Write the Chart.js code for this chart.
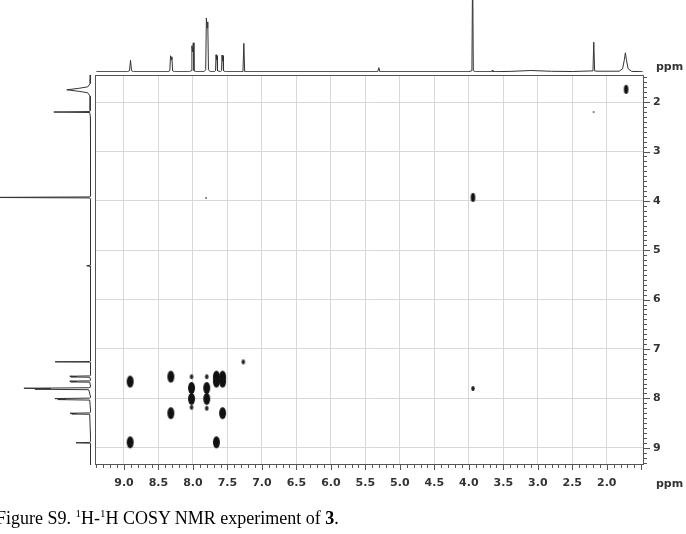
<!DOCTYPE html>
<html>
<head>
<meta charset="utf-8">
<script src="https://cdn.jsdelivr.net/npm/chart.js@4.4.1/dist/chart.umd.min.js"></script>
<style>
  html, body { margin: 0; padding: 0; background: #fff; }
  #wrap { position: relative; width: 686px; height: 534px; overflow: hidden; background: #fff; }
  canvas { position: absolute; }
  .ppm { position: absolute; font-family: "DejaVu Sans", sans-serif; font-weight: bold; font-size: 11px; color: #333; line-height: 13px; }
  #caption { position: absolute; left: -4px; top: 509px; font-family: "Liberation Serif", "Times New Roman", serif; font-size: 18px; line-height: 18px; color: #000; white-space: nowrap; }
  #caption sup { font-size: 11px; vertical-align: 7px; line-height: 0; }
</style>
</head>
<body>
<div id="wrap">
  <canvas id="main" width="686" height="534" style="left:0;top:0"></canvas>
  <canvas id="top" width="686" height="75" style="left:0;top:0"></canvas>
  <canvas id="side" width="95" height="390" style="left:0;top:75px"></canvas>
  <div class="ppm" style="left:656px;top:60px">ppm</div>
  <div class="ppm" style="left:656px;top:477px">ppm</div>
  <div id="caption">Figure S9. <sup>1</sup>H-<sup>1</sup>H COSY NMR experiment of <b>3</b>.</div>
</div>
<script>
// ---------- data ----------
const xTickValues = [9.0, 8.5, 8.0, 7.5, 7.0, 6.5, 6.0, 5.5, 5.0, 4.5, 4.0, 3.5, 3.0, 2.5, 2.0];
const yTickValues = [2, 3, 4, 5, 6, 7, 8, 9];

// strong cross / diagonal peaks (F2 ppm, F1 ppm)
const strongX = [8.91, 8.91, 8.32, 8.32, 8.02, 8.02, 7.80, 7.80, 7.66, 7.66, 7.57, 7.57, 7.57, 7.66];
const strongY = [7.66, 8.89, 7.56, 8.30, 7.79, 8.01, 7.79, 8.01, 7.56, 7.66, 7.56, 7.66, 8.30, 8.89];
// medium peaks
const mediumX = [3.94, 1.72];
const mediumY = [3.93, 1.74];
// weak peaks
const weakX = [8.02, 8.02, 7.80, 7.80, 7.27, 3.94];
const weakY = [7.56, 8.18, 7.56, 8.20, 7.26, 7.80];
// very weak peaks
const tinyX = [7.81, 2.19];
const tinyY = [3.94, 2.20];

// 1D projection on top (ppm, intensity)
const topPpm = [9.40, 8.95, 8.92, 8.905, 8.89, 8.86, 8.36, 8.335, 8.325, 8.315, 8.305, 8.295, 8.27,
  8.05, 8.025, 8.015, 8.005, 7.995, 7.985, 7.96, 7.84, 7.815, 7.805, 7.795, 7.785, 7.775, 7.75,
  7.69, 7.672, 7.665, 7.658, 7.651, 7.644, 7.60, 7.585, 7.578, 7.571, 7.564, 7.557, 7.53,
  7.275, 7.262, 7.25, 5.32, 5.305, 5.29, 4.00, 3.955, 3.945, 3.935, 3.90, 3.67, 3.66, 3.65,
  3.40, 3.10, 2.80, 2.50, 2.20, 2.188, 2.176, 2.14, 1.82, 1.77, 1.745, 1.73, 1.715, 1.69, 1.64, 1.48];
const topInt = [0, 0, 1, 11.5, 1, 0, 0, 1, 16, 12, 15, 1, 0,
  0, 1, 26, 20, 29, 1, 0, 0, 2, 54, 44, 50, 2, 0,
  0, 1, 17, 12, 16, 1, 0, 1, 16.7, 11, 16, 1, 0,
  0, 28.4, 0, 0, 4, 0, 0, 1, 110, 1, 0, 0, 1.5, 0,
  0.3, 1.2, 0.4, 0.2, 0.8, 29.7, 0.8, 0.5, 0.5, 3, 12, 19, 12, 3, 0.3, 0];

// 1D projection on the left (ppm, intensity)
const sidePpm = [1.45, 1.62, 1.69, 1.72, 1.75, 1.78, 1.81, 1.88, 2.17, 2.19, 2.20, 2.21, 2.30, 2.60,
  3.90, 3.92, 3.93, 3.94, 3.97, 5.30, 5.315, 5.33, 7.24, 7.255, 7.26, 7.265, 7.28,
  7.53, 7.545, 7.552, 7.559, 7.566, 7.573, 7.63, 7.645, 7.652, 7.659, 7.666, 7.673,
  7.77, 7.785, 7.795, 7.805, 7.815, 7.825, 7.98, 7.995, 8.005, 8.015, 8.025, 8.035,
  8.28, 8.295, 8.302, 8.309, 8.316, 8.323, 8.88, 8.892, 8.90, 8.908, 8.92, 9.35];
const sideInt = [0, 0.5, 3, 12, 24, 12, 3, 0.5, 0.5, 1, 37, 1, 0.3, 0,
  0, 1, 110, 1, 0, 0, 4, 0, 0, 1, 35.7, 1, 0,
  0, 1, 21, 14, 20, 1, 0, 1, 21, 14, 20, 1,
  0, 2, 67, 40, 56, 2, 0, 1, 36, 25, 33, 1,
  0, 1, 20.7, 14, 19, 1, 0, 1, 14.7, 1, 0, 0];

// ---------- helpers ----------
const zip = (xs, ys) => xs.map((x, i) => ({ x: x, y: ys[i] }));
function blob(w, h, color) {
  const c = document.createElement('canvas');
  c.width = Math.ceil(w) + 2; c.height = Math.ceil(h) + 2;
  const g = c.getContext('2d');
  g.fillStyle = color;
  g.beginPath();
  g.ellipse(c.width / 2, c.height / 2, w / 2, h / 2, 0, 0, Math.PI * 2);
  g.fill();
  return c;
}

const X_MIN = 1.46, X_MAX = 9.42, Y_MIN = 1.45, Y_MAX = 9.35;

const framePlugin = {
  id: 'frame',
  afterDraw(chart) {
    const { ctx, chartArea: a, scales } = chart;
    ctx.save();
    ctx.strokeStyle = '#555';
    ctx.lineWidth = 1;
    ctx.strokeRect(a.left + 0.5, a.top + 0.5, a.right - a.left - 1, a.bottom - a.top - 1);
    ctx.beginPath();
    for (let k = 15; k <= 94; k++) {
      const px = Math.round(scales.x.getPixelForValue(k / 10)) + 0.5;
      const len = (k % 5 === 0) ? 5 : 3;
      ctx.moveTo(px, a.bottom); ctx.lineTo(px, a.bottom + len);
    }
    for (let k = 15; k <= 93; k++) {
      const py = Math.round(scales.y.getPixelForValue(k / 10)) + 0.5;
      const len = (k % 10 === 0) ? 6 : 3;
      ctx.moveTo(a.right, py); ctx.lineTo(a.right + len, py);
    }
    ctx.stroke();
    ctx.restore();
  }
};

const tickFont = { family: 'DejaVu Sans', weight: 'bold', size: 11 };

new Chart(document.getElementById('main'), {
  type: 'scatter',
  data: {
    datasets: [
      { data: zip(strongX, strongY), pointStyle: blob(7, 12, '#111') },
      { data: zip(mediumX, mediumY), pointStyle: blob(4.5, 9, '#111') },
      { data: zip(weakX, weakY), pointStyle: blob(3.5, 5, '#222') },
      { data: zip(tinyX, tinyY), pointStyle: blob(2, 2, '#666') }
    ]
  },
  options: {
    responsive: false,
    animation: false,
    layout: { padding: { left: 95, top: 75, right: 0, bottom: 0 }, autoPadding: false },
    plugins: { legend: { display: false }, tooltip: { enabled: false } },
    scales: {
      x: {
        type: 'linear', reverse: true, min: X_MIN, max: X_MAX, position: 'bottom',
        afterBuildTicks: s => { s.ticks = xTickValues.map(v => ({ value: v })); },
        afterFit: s => { s.height = 69; },
        ticks: { callback: v => v.toFixed(1), font: tickFont, color: '#333', padding: 12, maxRotation: 0, autoSkip: false },
        grid: { color: '#d8d8d8', drawTicks: false },
        border: { display: false }
      },
      y: {
        type: 'linear', reverse: true, min: Y_MIN, max: Y_MAX, position: 'right',
        afterBuildTicks: s => { s.ticks = yTickValues.map(v => ({ value: v })); },
        afterFit: s => { s.width = 42; },
        ticks: { callback: v => String(v), font: tickFont, color: '#333', padding: 9, autoSkip: false },
        grid: { color: '#d8d8d8', drawTicks: false },
        border: { display: false }
      }
    }
  },
  plugins: [framePlugin]
});

new Chart(document.getElementById('top'), {
  type: 'scatter',
  data: { datasets: [{ data: zip(topPpm, topInt), showLine: true, pointRadius: 0, borderColor: '#333', borderWidth: 1 }] },
  options: {
    responsive: false, animation: false,
    layout: { padding: { left: 95, right: 42, top: 0, bottom: 3 }, autoPadding: false },
    plugins: { legend: { display: false }, tooltip: { enabled: false } },
    scales: {
      x: { type: 'linear', display: false, reverse: true, min: X_MIN, max: X_MAX },
      y: { type: 'linear', display: false, min: -0.3, max: 72 }
    }
  }
});

new Chart(document.getElementById('side'), {
  type: 'scatter',
  data: { datasets: [{ data: zip(sideInt, sidePpm), showLine: true, pointRadius: 0, borderColor: '#333', borderWidth: 1 }] },
  options: {
    responsive: false, animation: false,
    layout: { padding: { left: 0, right: 4, top: 0, bottom: 0 }, autoPadding: false },
    plugins: { legend: { display: false }, tooltip: { enabled: false } },
    scales: {
      x: { type: 'linear', display: false, reverse: true, min: -0.3, max: 91 },
      y: { type: 'linear', display: false, reverse: true, min: Y_MIN, max: Y_MAX }
    }
  }
});
</script>
</body>
</html>
